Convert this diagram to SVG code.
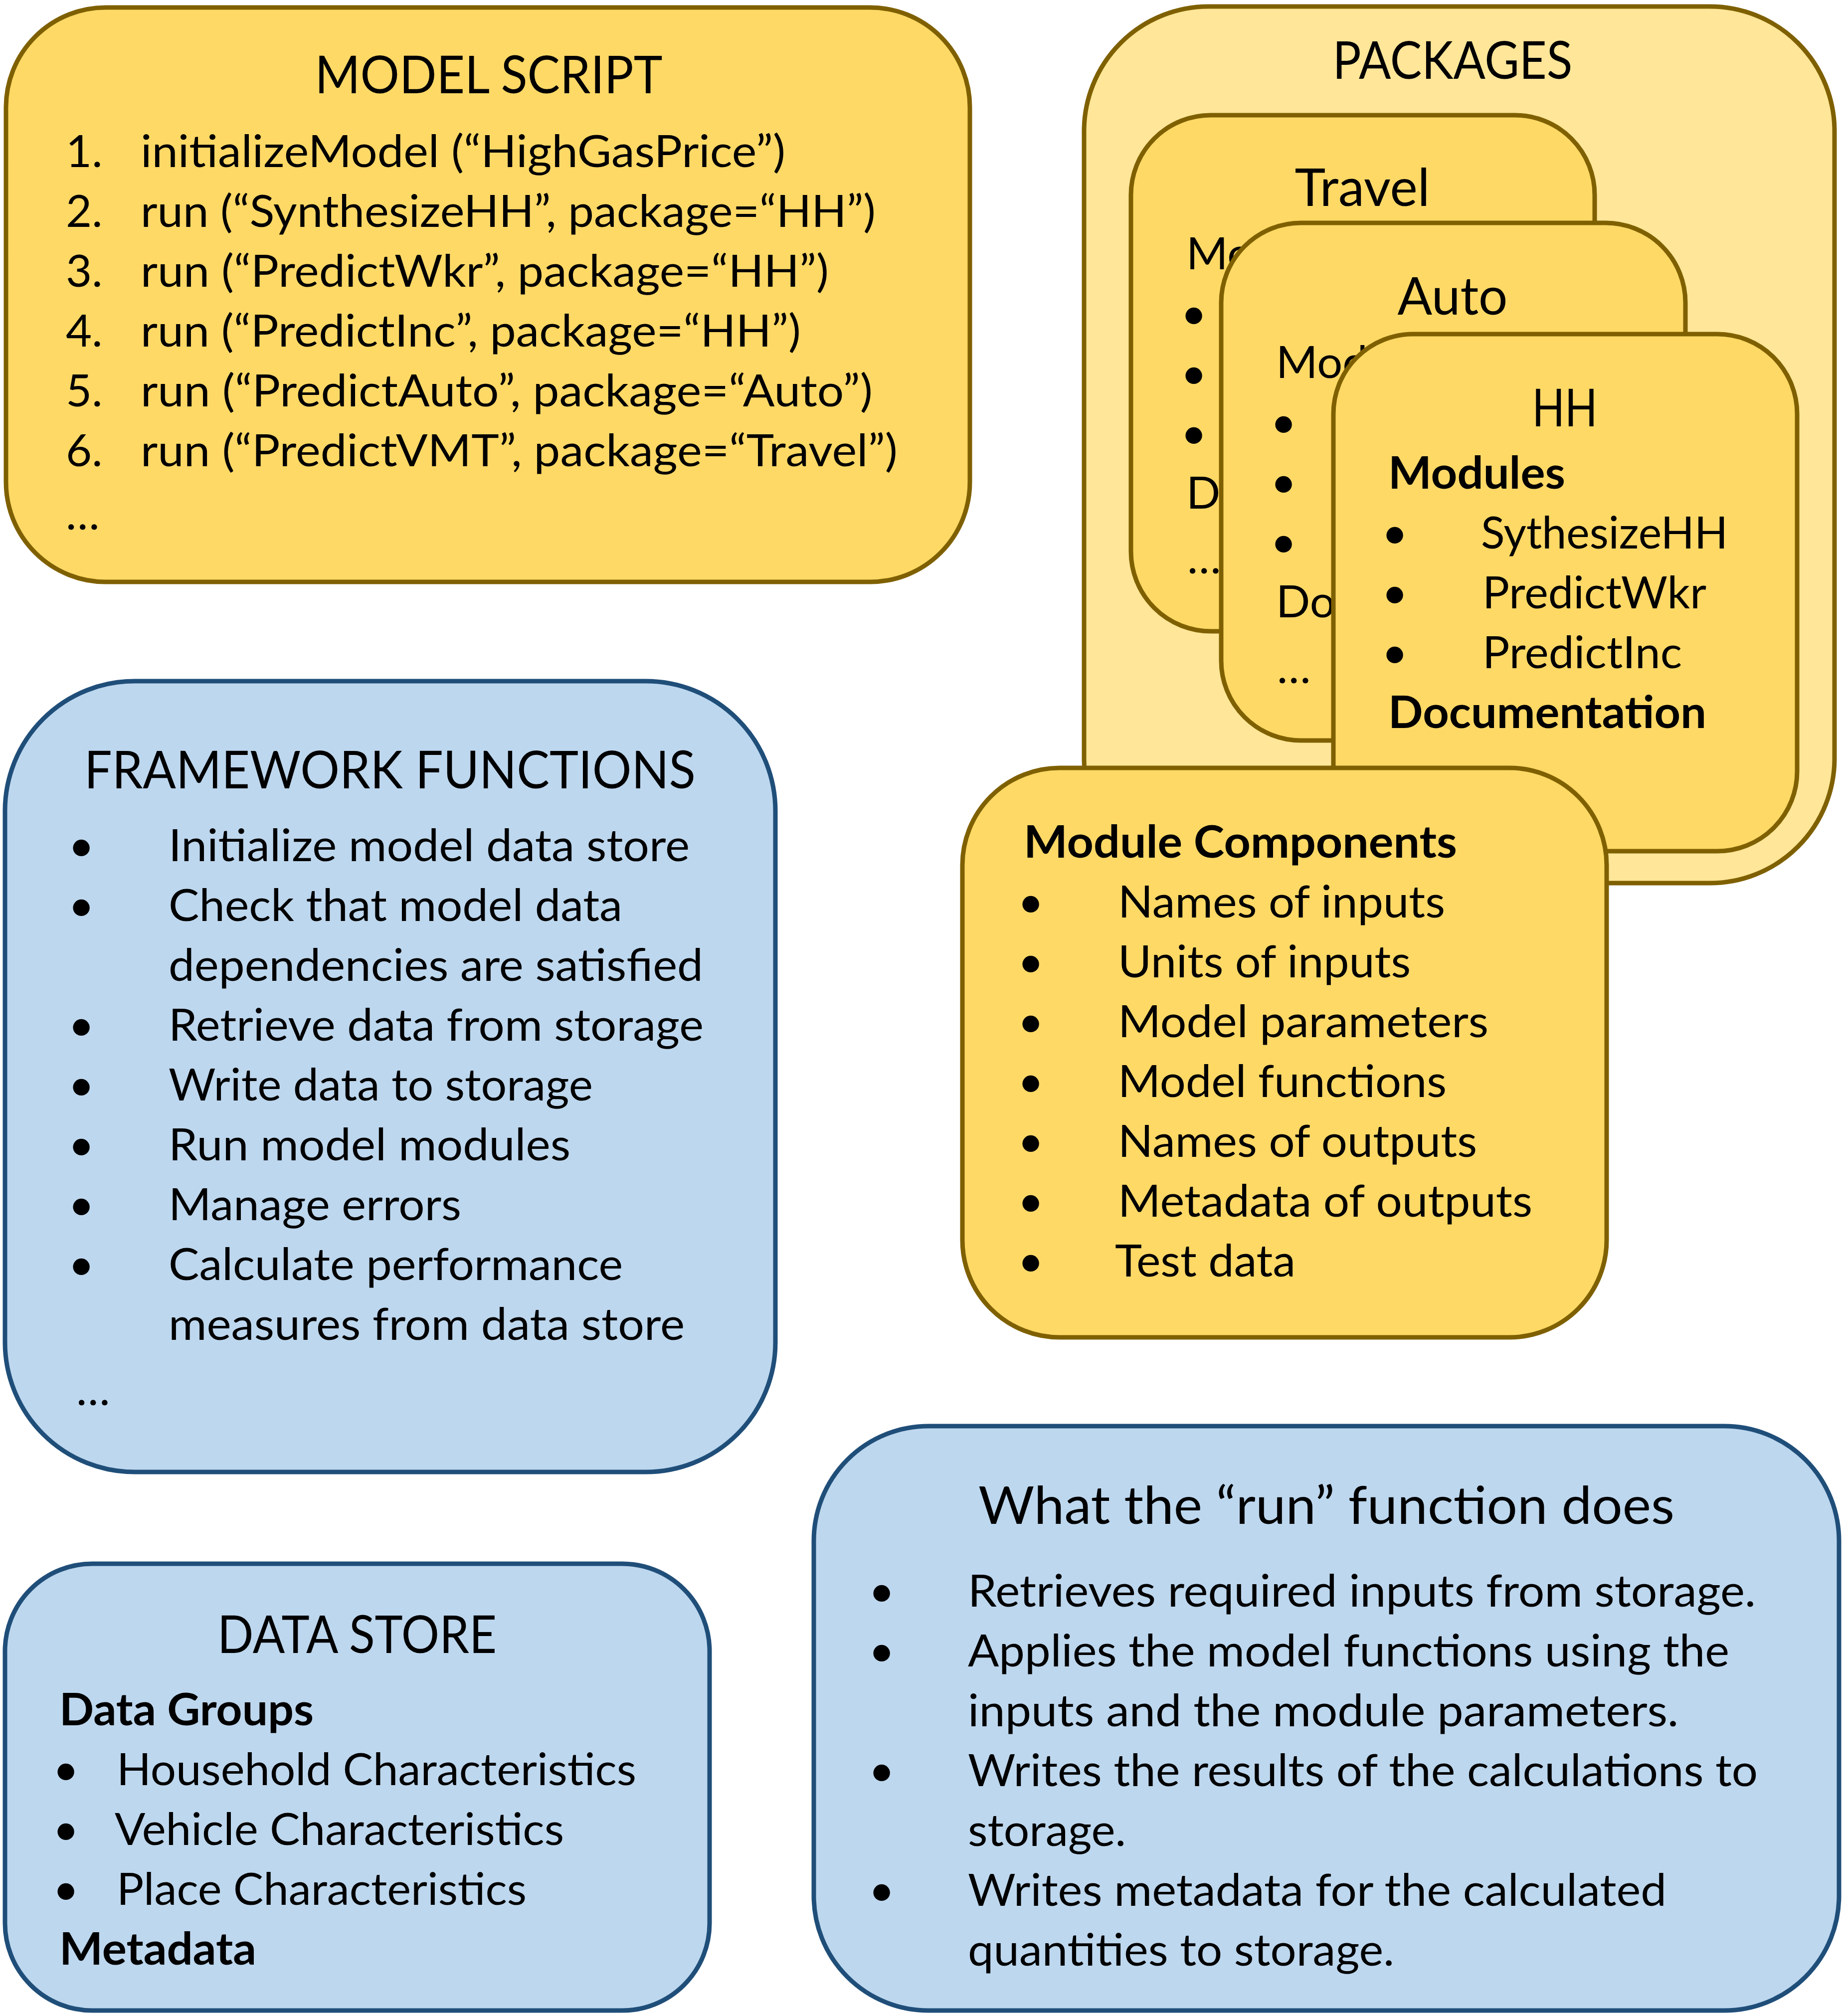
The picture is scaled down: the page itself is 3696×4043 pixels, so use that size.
<svg xmlns="http://www.w3.org/2000/svg" width="3696" height="4043" viewBox="0 0 3696 4043">
<style>
.y{fill:#FFD966;stroke:#7F6000;stroke-width:9}
.yl{fill:#FFE699;stroke:#7F6000;stroke-width:9}
.b{fill:#BDD7EE;stroke:#1F4E79;stroke-width:9}
text{font-family:Lato,"Open Sans","Liberation Sans",sans-serif;fill:#000}
.t{font-size:90px}
.h{font-size:104px;text-anchor:middle}
.bd{font-size:90px;font-weight:700}
.u{font-size:90px;text-anchor:middle}
</style>
<rect width="3696" height="4043" fill="#FFFFFF"/>
<g id="model-script">
<rect class="y" x="12" y="15" width="1933" height="1152" rx="200" ry="200"/>
<text class="h" x="980" y="187" textLength="697" lengthAdjust="spacingAndGlyphs">MODEL SCRIPT</text>
<text class="t" x="132" y="335">1.</text>
<text class="t" x="282" y="335" textLength="1293" lengthAdjust="spacingAndGlyphs">initializeModel (“HighGasPrice”)</text>
<text class="t" x="132" y="455">2.</text>
<text class="t" x="282" y="455" textLength="1474" lengthAdjust="spacingAndGlyphs">run (“SynthesizeHH”, package=“HH”)</text>
<text class="t" x="132" y="575">3.</text>
<text class="t" x="282" y="575" textLength="1380" lengthAdjust="spacingAndGlyphs">run (“PredictWkr”, package=“HH”)</text>
<text class="t" x="132" y="695">4.</text>
<text class="t" x="282" y="695" textLength="1324" lengthAdjust="spacingAndGlyphs">run (“PredictInc”, package=“HH”)</text>
<text class="t" x="132" y="815">5.</text>
<text class="t" x="282" y="815" textLength="1468" lengthAdjust="spacingAndGlyphs">run (“PredictAuto”, package=“Auto”)</text>
<text class="t" x="132" y="935">6.</text>
<text class="t" x="282" y="935" textLength="1518" lengthAdjust="spacingAndGlyphs">run (“PredictVMT”, package=“Travel”)</text>
<text class="t" x="132" y="1062">…</text>
</g>
<g id="packages">
<rect class="yl" x="2174" y="13" width="1505" height="1758" rx="250" ry="250"/>
<text class="h" x="2913" y="158" textLength="481" lengthAdjust="spacingAndGlyphs">PACKAGES</text>
</g>
<g id="package-travel">
<rect class="y" x="2268" y="231" width="930" height="1035" rx="160" ry="160"/>
<text class="h" x="2732" y="413" textLength="271" lengthAdjust="spacingAndGlyphs">Travel</text>
<text class="t" x="2379" y="540">Mo</text>
<text class="u" x="2394" y="660">•</text>
<text class="u" x="2394" y="780">•</text>
<text class="u" x="2394" y="900">•</text>
<text class="t" x="2379" y="1020">Do</text>
<text class="t" x="2381" y="1150">…</text>
</g>
<g id="package-auto">
<rect class="y" x="2449" y="447" width="931" height="1038" rx="160" ry="160"/>
<text class="h" x="2913" y="631" textLength="221" lengthAdjust="spacingAndGlyphs">Auto</text>
<text class="t" x="2559" y="758">Mod</text>
<text class="u" x="2574" y="878">•</text>
<text class="u" x="2574" y="998">•</text>
<text class="u" x="2574" y="1118">•</text>
<text class="t" x="2559" y="1238">Do</text>
<text class="t" x="2561" y="1370">…</text>
</g>
<g id="package-hh">
<rect class="y" x="2674" y="670" width="930" height="1037" rx="160" ry="160"/>
<text class="h" x="3138" y="855" textLength="131" lengthAdjust="spacingAndGlyphs">HH</text>
<text class="bd" x="2784" y="980" textLength="355" lengthAdjust="spacingAndGlyphs">Modules</text>
<text class="u" x="2797" y="1100">•</text>
<text class="t" x="2970" y="1100" textLength="495" lengthAdjust="spacingAndGlyphs">SythesizeHH</text>
<text class="u" x="2797" y="1220">•</text>
<text class="t" x="2973" y="1220" textLength="449" lengthAdjust="spacingAndGlyphs">PredictWkr</text>
<text class="u" x="2797" y="1340">•</text>
<text class="t" x="2973" y="1340" textLength="400" lengthAdjust="spacingAndGlyphs">PredictInc</text>
<text class="bd" x="2784" y="1460" textLength="638" lengthAdjust="spacingAndGlyphs">Documentation</text>
</g>
<g id="module-components">
<rect class="y" x="1930" y="1540" width="1292" height="1142" rx="195" ry="195"/>
<text class="bd" x="2053" y="1720" textLength="869" lengthAdjust="spacingAndGlyphs">Module Components</text>
<text class="u" x="2067" y="1840">•</text>
<text class="t" x="2242" y="1840" textLength="656" lengthAdjust="spacingAndGlyphs">Names of inputs</text>
<text class="u" x="2067" y="1960">•</text>
<text class="t" x="2242" y="1960" textLength="587" lengthAdjust="spacingAndGlyphs">Units of inputs</text>
<text class="u" x="2067" y="2080">•</text>
<text class="t" x="2242" y="2080" textLength="743" lengthAdjust="spacingAndGlyphs">Model parameters</text>
<text class="u" x="2067" y="2200">•</text>
<text class="t" x="2242" y="2200" textLength="659" lengthAdjust="spacingAndGlyphs">Model functions</text>
<text class="u" x="2067" y="2320">•</text>
<text class="t" x="2242" y="2320" textLength="720" lengthAdjust="spacingAndGlyphs">Names of outputs</text>
<text class="u" x="2067" y="2440">•</text>
<text class="t" x="2242" y="2440" textLength="831" lengthAdjust="spacingAndGlyphs">Metadata of outputs</text>
<text class="u" x="2067" y="2560">•</text>
<text class="t" x="2236" y="2560" textLength="362" lengthAdjust="spacingAndGlyphs">Test data</text>
</g>
<g id="framework-functions">
<rect class="b" x="10" y="1366" width="1545" height="1586" rx="260" ry="260"/>
<text class="h" x="782" y="1581" textLength="1226" lengthAdjust="spacingAndGlyphs">FRAMEWORK FUNCTIONS</text>
<text class="u" x="163" y="1727">•</text>
<text class="t" x="338" y="1727" textLength="1045" lengthAdjust="spacingAndGlyphs">Initialize model data store</text>
<text class="u" x="163" y="1847">•</text>
<text class="t" x="338" y="1847" textLength="910" lengthAdjust="spacingAndGlyphs">Check that model data</text>
<text class="t" x="338" y="1967" textLength="1072" lengthAdjust="spacingAndGlyphs">dependencies are satisfied</text>
<text class="u" x="163" y="2087">•</text>
<text class="t" x="338" y="2087" textLength="1073" lengthAdjust="spacingAndGlyphs">Retrieve data from storage</text>
<text class="u" x="163" y="2207">•</text>
<text class="t" x="338" y="2207" textLength="851" lengthAdjust="spacingAndGlyphs">Write data to storage</text>
<text class="u" x="163" y="2327">•</text>
<text class="t" x="338" y="2327" textLength="806" lengthAdjust="spacingAndGlyphs">Run model modules</text>
<text class="u" x="163" y="2447">•</text>
<text class="t" x="338" y="2447" textLength="587" lengthAdjust="spacingAndGlyphs">Manage errors</text>
<text class="u" x="163" y="2567">•</text>
<text class="t" x="338" y="2567" textLength="911" lengthAdjust="spacingAndGlyphs">Calculate performance</text>
<text class="t" x="338" y="2687" textLength="1035" lengthAdjust="spacingAndGlyphs">measures from data store</text>
<text class="t" x="153" y="2818">…</text>
</g>
<g id="data-store">
<rect class="b" x="10" y="3136" width="1413" height="896" rx="175" ry="175"/>
<text class="h" x="716" y="3315" textLength="560" lengthAdjust="spacingAndGlyphs">DATA STORE</text>
<text class="bd" x="119" y="3460" textLength="510" lengthAdjust="spacingAndGlyphs">Data Groups</text>
<text class="u" x="132" y="3580">•</text>
<text class="t" x="234" y="3580" textLength="1042" lengthAdjust="spacingAndGlyphs">Household Characteristics</text>
<text class="u" x="132" y="3700">•</text>
<text class="t" x="230" y="3700" textLength="901" lengthAdjust="spacingAndGlyphs">Vehicle Characteristics</text>
<text class="u" x="132" y="3820">•</text>
<text class="t" x="234" y="3820" textLength="822" lengthAdjust="spacingAndGlyphs">Place Characteristics</text>
<text class="bd" x="119" y="3940" textLength="395" lengthAdjust="spacingAndGlyphs">Metadata</text>
</g>
<g id="run-function">
<rect class="b" x="1632" y="2860" width="2056" height="1172" rx="230" ry="230"/>
<text class="h" x="2660" y="3056" textLength="1396" lengthAdjust="spacingAndGlyphs">What the “run” function does</text>
<text class="u" x="1768" y="3222">•</text>
<text class="t" x="1941" y="3222" textLength="1580" lengthAdjust="spacingAndGlyphs">Retrieves required inputs from storage.</text>
<text class="u" x="1768" y="3342">•</text>
<text class="t" x="1941" y="3342" textLength="1527" lengthAdjust="spacingAndGlyphs">Applies the model functions using the</text>
<text class="t" x="1941" y="3462" textLength="1425" lengthAdjust="spacingAndGlyphs">inputs and the module parameters.</text>
<text class="u" x="1768" y="3582">•</text>
<text class="t" x="1941" y="3582" textLength="1584" lengthAdjust="spacingAndGlyphs">Writes the results of the calculations to</text>
<text class="t" x="1941" y="3702" textLength="317" lengthAdjust="spacingAndGlyphs">storage.</text>
<text class="u" x="1768" y="3822">•</text>
<text class="t" x="1941" y="3822" textLength="1401" lengthAdjust="spacingAndGlyphs">Writes metadata for the calculated</text>
<text class="t" x="1941" y="3942" textLength="855" lengthAdjust="spacingAndGlyphs">quantities to storage.</text>
</g>
<g id="connectors"></g>
</svg>
